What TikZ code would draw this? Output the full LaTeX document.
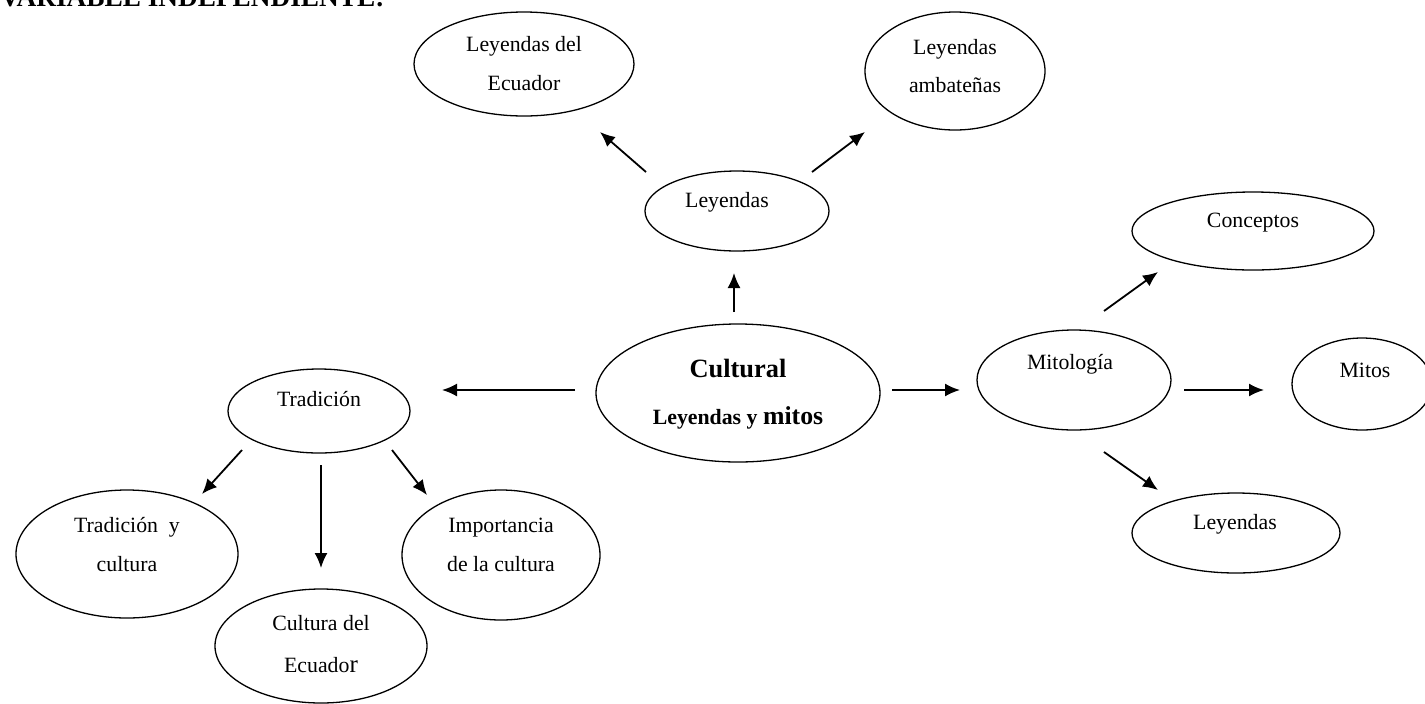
\documentclass[tikz,border=0pt]{standalone}
\usepackage{fontspec}
\setmainfont{Liberation Serif}
\usetikzlibrary{shapes.geometric,arrows.meta}
\begin{document}
\begin{tikzpicture}[x=0.5pt,y=-0.5pt,
  oval/.style={draw,ellipse,line width=0.65pt,inner sep=0pt},
  lbl/.style={inner sep=0pt,anchor=mid,font=\fontsize{10.9}{13}\selectfont},
  arr/.style={line width=0.9pt,-{Latex[length=7.5pt,width=6.5pt]}}]
\useasboundingbox (0,0) rectangle (1425,703);

% title (cut at top edge)
\node[inner sep=0pt,anchor=base west,font=\bfseries\fontsize{13.65}{16}\selectfont] (title) at (0,6) {VARIABLE INDEPENDIENTE:};

% ellipses
\node[oval,minimum width=110pt,minimum height=52pt] (ecu) at (524,64) {};
\node[oval,minimum width=90pt,minimum height=59pt] (amb) at (955,71) {};
\node[oval,minimum width=92pt,minimum height=40pt] (ley) at (737,211) {};
\node[oval,minimum width=121pt,minimum height=39pt] (con) at (1253,231) {};
\node[oval,minimum width=142pt,minimum height=69pt] (cult) at (738,393) {};
\node[oval,minimum width=97pt,minimum height=50pt] (mit) at (1074,380) {};
\node[oval,minimum width=70pt,minimum height=46pt] (mitos) at (1362,384) {};
\node[oval,minimum width=104pt,minimum height=40pt] (ley2) at (1236,533) {};
\node[oval,minimum width=91pt,minimum height=42pt] (trad) at (319,411) {};
\node[oval,minimum width=111pt,minimum height=64pt] (tyc) at (127,554) {};
\node[oval,minimum width=106pt,minimum height=57pt] (cde) at (321,646) {};
\node[oval,minimum width=99pt,minimum height=65pt] (imp) at (501,555) {};

% labels
\node[lbl] (ecu1) at (524,47) {Leyendas del};
\node[lbl] (ecu2) at (524,86) {Ecuador};
\node[lbl] (amb1) at (955,50) {Leyendas};
\node[lbl] (amb2) at (955,88) {ambateñas};
\node[lbl] (ley1) at (727,203) {Leyendas};
\node[lbl] (con1) at (1253,223) {Conceptos};
\node[lbl,font=\bfseries\fontsize{13.2}{15}\selectfont] (cult1) at (738,373) {Cultural};
\node[lbl,font=\bfseries\fontsize{10.9}{13}\selectfont] (cult2) at (738,420) {Leyendas y {\fontsize{12.9}{15}\selectfont mitos}};
\node[lbl] (mit1) at (1070,365) {Mitología};
\node[lbl] (mitos1) at (1365,373) {Mitos};
\node[lbl] (ley21) at (1235,525) {Leyendas};
\node[lbl] (trad1) at (319,402) {Tradición};
\node[lbl] (tyc1) at (127,528) {Tradición\ \ y};
\node[lbl] (tyc2) at (127,567) {cultura};
\node[lbl] (cde1) at (321,626) {Cultura del};
\node[lbl] (cde2) at (321,668) {Ecuado{\fontsize{12.5}{15}\selectfont r}};
\node[lbl] (imp1) at (501,528) {Importancia};
\node[lbl] (imp2) at (501,567) {de la cultura};

% arrow end points
\coordinate (a1s) at (734,312);  \coordinate (a1e) at (734,273);
\coordinate (a2s) at (646,172);  \coordinate (a2e) at (600,132);
\coordinate (a3s) at (812,172);  \coordinate (a3e) at (865,132);
\coordinate (a4s) at (575,390);  \coordinate (a4e) at (442,390);
\coordinate (a5s) at (892,390);  \coordinate (a5e) at (960,390);
\coordinate (a6s) at (1104,311); \coordinate (a6e) at (1158,272);
\coordinate (a7s) at (1184,390); \coordinate (a7e) at (1264,390);
\coordinate (a8s) at (1104,452); \coordinate (a8e) at (1158,490);
\coordinate (a9s) at (242,450);  \coordinate (a9e) at (202,494);
\coordinate (a10s) at (321,465); \coordinate (a10e) at (321,568);
\coordinate (a11s) at (392,450); \coordinate (a11e) at (427,495);

\draw[arr] (a1s) -- (a1e);
\draw[arr] (a2s) -- (a2e);
\draw[arr] (a3s) -- (a3e);
\draw[arr] (a4s) -- (a4e);
\draw[arr] (a5s) -- (a5e);
\draw[arr] (a6s) -- (a6e);
\draw[arr] (a7s) -- (a7e);
\draw[arr] (a8s) -- (a8e);
\draw[arr] (a9s) -- (a9e);
\draw[arr] (a10s) -- (a10e);
\draw[arr] (a11s) -- (a11e);
\end{tikzpicture}
\end{document}
